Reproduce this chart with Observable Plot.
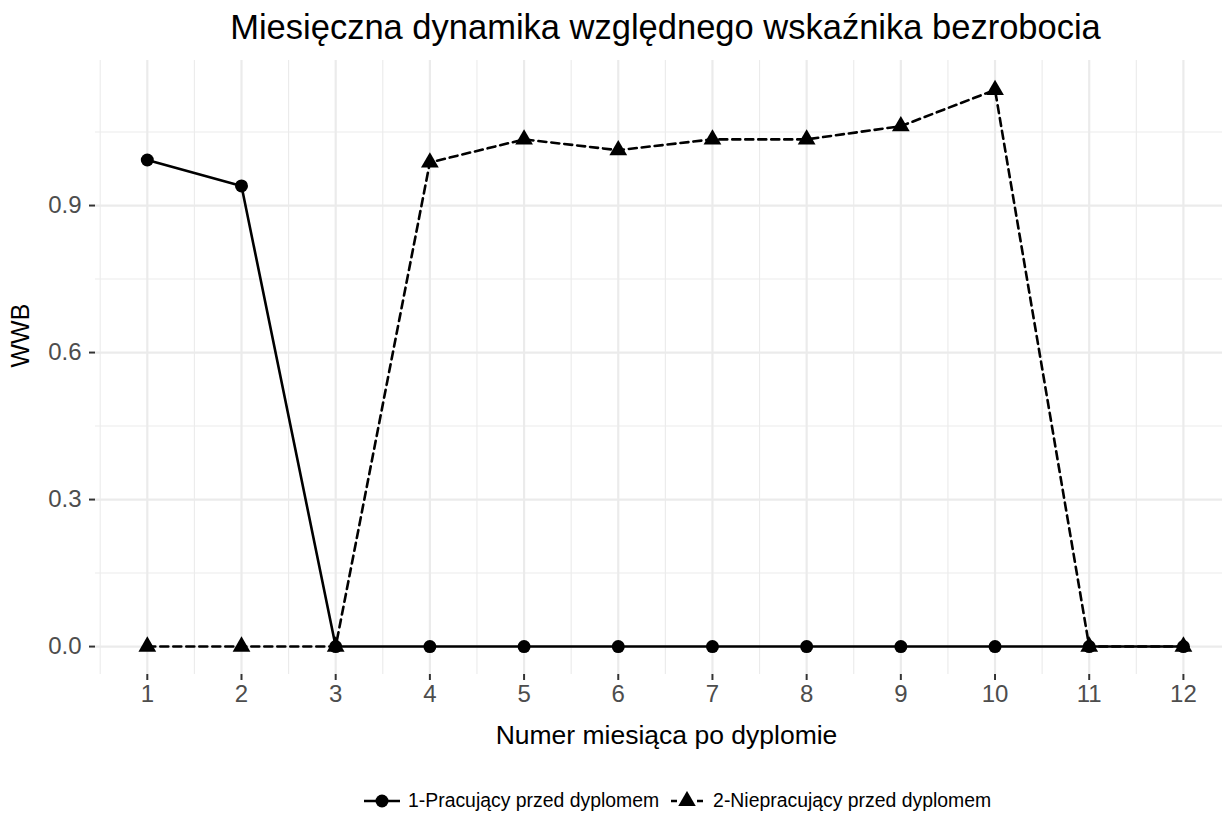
<!DOCTYPE html>
<html>
<head>
<meta charset="utf-8">
<script src="https://cdn.jsdelivr.net/npm/d3@7"></script>
<script src="https://cdn.jsdelivr.net/npm/@observablehq/plot@0.6"></script>
<style>
  body { margin: 0; background: #fff; font-family: "Liberation Sans", Arial, sans-serif; }
  #wrap { position: relative; width: 1222px; height: 823px; overflow: hidden; }
  #legend { position: absolute; left: 364px; top: 789px; display: flex; align-items: center; font-size: 19.4px; color: #000; white-space: nowrap; }
  #legend svg { display: block; }
</style>
</head>
<body>
<div id="wrap">
  <div id="chart"></div>
  <div id="legend"></div>
</div>
<script>
const title = "Miesięczna dynamika względnego wskaźnika bezrobocia";
const xTitle = "Numer miesiąca po dyplomie";
const yTitle = "WWB";
const seriesNames = ["1-Pracujący przed dyplomem", "2-Niepracujący przed dyplomem"];
const months = [1, 2, 3, 4, 5, 6, 7, 8, 9, 10, 11, 12];
const pracujacy = [0.993, 0.940, 0, 0, 0, 0, 0, 0, 0, 0, 0, 0];
const niepracujacy = [0, 0, 0, 0.988, 1.035, 1.013, 1.035, 1.035, 1.062, 1.136, 0, 0];
const yTicks = [0, 0.3, 0.6, 0.9];
const yMinor = [0.15, 0.45, 0.75, 1.05];
const xMinor = [0.5, 1.5, 2.5, 3.5, 4.5, 5.5, 6.5, 7.5, 8.5, 9.5, 10.5, 11.5];

const s1 = months.map((m, i) => ({month: m, value: pracujacy[i]}));
const s2 = months.map((m, i) => ({month: m, value: niepracujacy[i]}));

const grid = "#ebebeb";
const dash = "8,5";
const lw = 2.6;
const chart = Plot.plot({
  width: 1222,
  height: 823,
  marginTop: 60,
  marginLeft: 95,
  marginRight: 0,
  marginBottom: 149,
  style: {fontFamily: "'Liberation Sans', Arial, sans-serif", background: "#fff", overflow: "visible"},
  x: {domain: [0.45, 12.415]},
  y: {domain: [-0.057, 1.196]},
  marks: [
    Plot.ruleX(xMinor, {stroke: grid, strokeWidth: 1.1}),
    Plot.ruleY(yMinor, {stroke: grid, strokeWidth: 1.1}),
    Plot.ruleX(months, {stroke: grid, strokeWidth: 2.2}),
    Plot.ruleY(yTicks, {stroke: grid, strokeWidth: 2.2}),
    Plot.axisX({ticks: months, tickSize: 6, tickPadding: 4, stroke: "#333", strokeWidth: 2, fill: "#4d4d4d", fontSize: 24, label: null, tickFormat: d => String(d)}),
    Plot.axisY({ticks: yTicks, tickSize: 6, tickPadding: 8, stroke: "#333", strokeWidth: 2, fill: "#4d4d4d", fontSize: 24, label: null, tickFormat: d3.format(".1f")}),
    Plot.line(s1, {x: "month", y: "value", stroke: "#000", strokeWidth: lw}),
    Plot.line(s2, {x: "month", y: "value", stroke: "#000", strokeWidth: lw, strokeDasharray: dash}),
    Plot.dot(s1, {x: "month", y: "value", fill: "#000", r: 6.5, symbol: "circle"}),
    Plot.dot(s2, {x: "month", y: "value", fill: "#000", r: 6.6, symbol: "triangle"}),
    Plot.text([title], {frameAnchor: "top", text: d => d, fontSize: 34.5, fill: "#000", lineAnchor: "bottom", dy: -22, dx: 6.5}),
    Plot.text([xTitle], {frameAnchor: "bottom", text: d => d, fontSize: 26.5, fill: "#000", lineAnchor: "bottom", dy: 69, dx: 7.5}),
    Plot.text([yTitle], {frameAnchor: "left", text: d => d, fontSize: 25, fill: "#000", lineAnchor: "bottom", rotate: -90, dx: -67})
  ]
});
document.getElementById("chart").appendChild(chart);

const legend = document.getElementById("legend");
const ns = "http://www.w3.org/2000/svg";
function sym(kind) {
  const w = 36;
  const svg = document.createElementNS(ns, "svg");
  svg.setAttribute("width", w); svg.setAttribute("height", 20);
  const line = document.createElementNS(ns, "line");
  line.setAttribute("x1", 0); line.setAttribute("x2", w); line.setAttribute("y1", 10); line.setAttribute("y2", 10);
  line.setAttribute("stroke", "#000"); line.setAttribute("stroke-width", lw);
  if (kind !== "circle") { line.setAttribute("stroke-dasharray", "6,7"); line.setAttribute("stroke-dashoffset", "-2"); }
  svg.appendChild(line);
  const p = document.createElementNS(ns, "path");
  const s = d3.symbol(kind === "circle" ? d3.symbolCircle : d3.symbolTriangle, 6.5 * 6.5 * Math.PI)();
  p.setAttribute("d", s); p.setAttribute("transform", `translate(${w / 2},10)`); p.setAttribute("fill", "#000");
  svg.appendChild(p);
  return svg;
}
seriesNames.forEach((name, i) => {
  const item = document.createElement("div");
  item.style.display = "flex"; item.style.alignItems = "center";
  if (i > 0) item.style.marginLeft = "10px";
  item.appendChild(sym(i === 0 ? "circle" : "triangle"));
  const t = document.createElement("span");
  t.textContent = name; t.style.marginLeft = "8px";
  item.appendChild(t);
  legend.appendChild(item);
});
</script>
</body>
</html>
